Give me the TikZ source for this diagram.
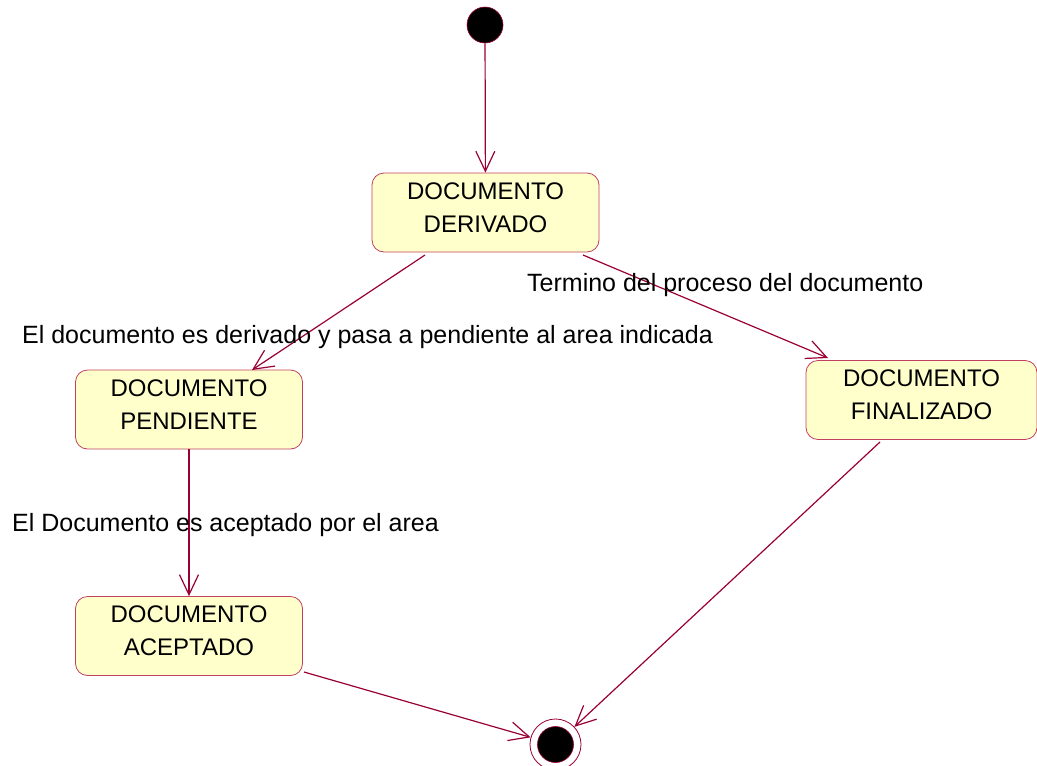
\documentclass[tikz,border=0pt]{standalone}
\usepackage{fontspec}
\setmainfont{Liberation Sans}
\usetikzlibrary{arrows.meta}
\definecolor{edgecol}{HTML}{990033}
\definecolor{boxfill}{HTML}{FFFFCC}
\definecolor{boxline}{HTML}{C04060}
\tikzset{
  statebox/.style={draw=boxline, fill=boxfill, rounded corners=12pt, minimum width=227pt, minimum height=79pt, inner sep=0pt, line width=0.8pt},
  boxtext/.style={align=center, inner sep=0pt, font=\fontsize{24}{33}\selectfont, yshift=5pt},
  flow/.style={draw=edgecol, line width=1.2pt, -{Straight Barb[length=20pt, width=19pt, line width=1.2pt]}},
  lbl/.style={font=\fontsize{25}{28}\selectfont, inner sep=0pt, anchor=base west},
}
\begin{document}
\begin{tikzpicture}[x=1pt, y=-1pt]
\useasboundingbox (0,0) rectangle (1037,766);
\node[circle, fill=black, draw=edgecol, line width=0.6pt, minimum size=36pt, inner sep=0pt] (init) at (485,25) {};
\node[statebox, label={[boxtext]center:{DOCUMENTO\\DERIVADO}}] (der) at (485.5,212.5) {};
\node[statebox, label={[boxtext]center:{DOCUMENTO\\PENDIENTE}}] (pen) at (189,409.5) {};
\node[statebox, label={[boxtext]center:{DOCUMENTO\\ACEPTADO}}] (acc) at (189,636) {};
\node[statebox, minimum width=231pt, label={[boxtext]center:{DOCUMENTO\\FINALIZADO}}] (fin) at (921.5,400) {};
\node[circle, draw=edgecol, line width=0.8pt, minimum size=51pt, inner sep=0pt] (final) at (555.5,744.5) {};
\node[circle, fill=black, draw=edgecol, line width=0.6pt, minimum size=36pt, inner sep=0pt] (finalin) at (555.5,744.5) {};
\coordinate (d1) at (425,255);
\coordinate (d2) at (583,255);
\coordinate (f1) at (880,442);
\coordinate (a1) at (304,672);
\draw[flow] (init) -- (der);
\draw[flow] (d1) -- (252,370) coordinate (p0);
\draw[flow] (d2) -- (828,358) coordinate (fz);
\draw[flow] (pen.south) -- (acc.north);
\draw[flow] (a1) -- (final);
\draw[flow] (f1) -- (final);
\node[lbl] (l1) at (527,291) {Termino del proceso del documento};
\node[lbl] (l2) at (22,343) {El documento es derivado y pasa a pendiente al area indicada};
\node[lbl] (l3) at (12,531) {El Documento es aceptado por el area};
\end{tikzpicture}
\end{document}
